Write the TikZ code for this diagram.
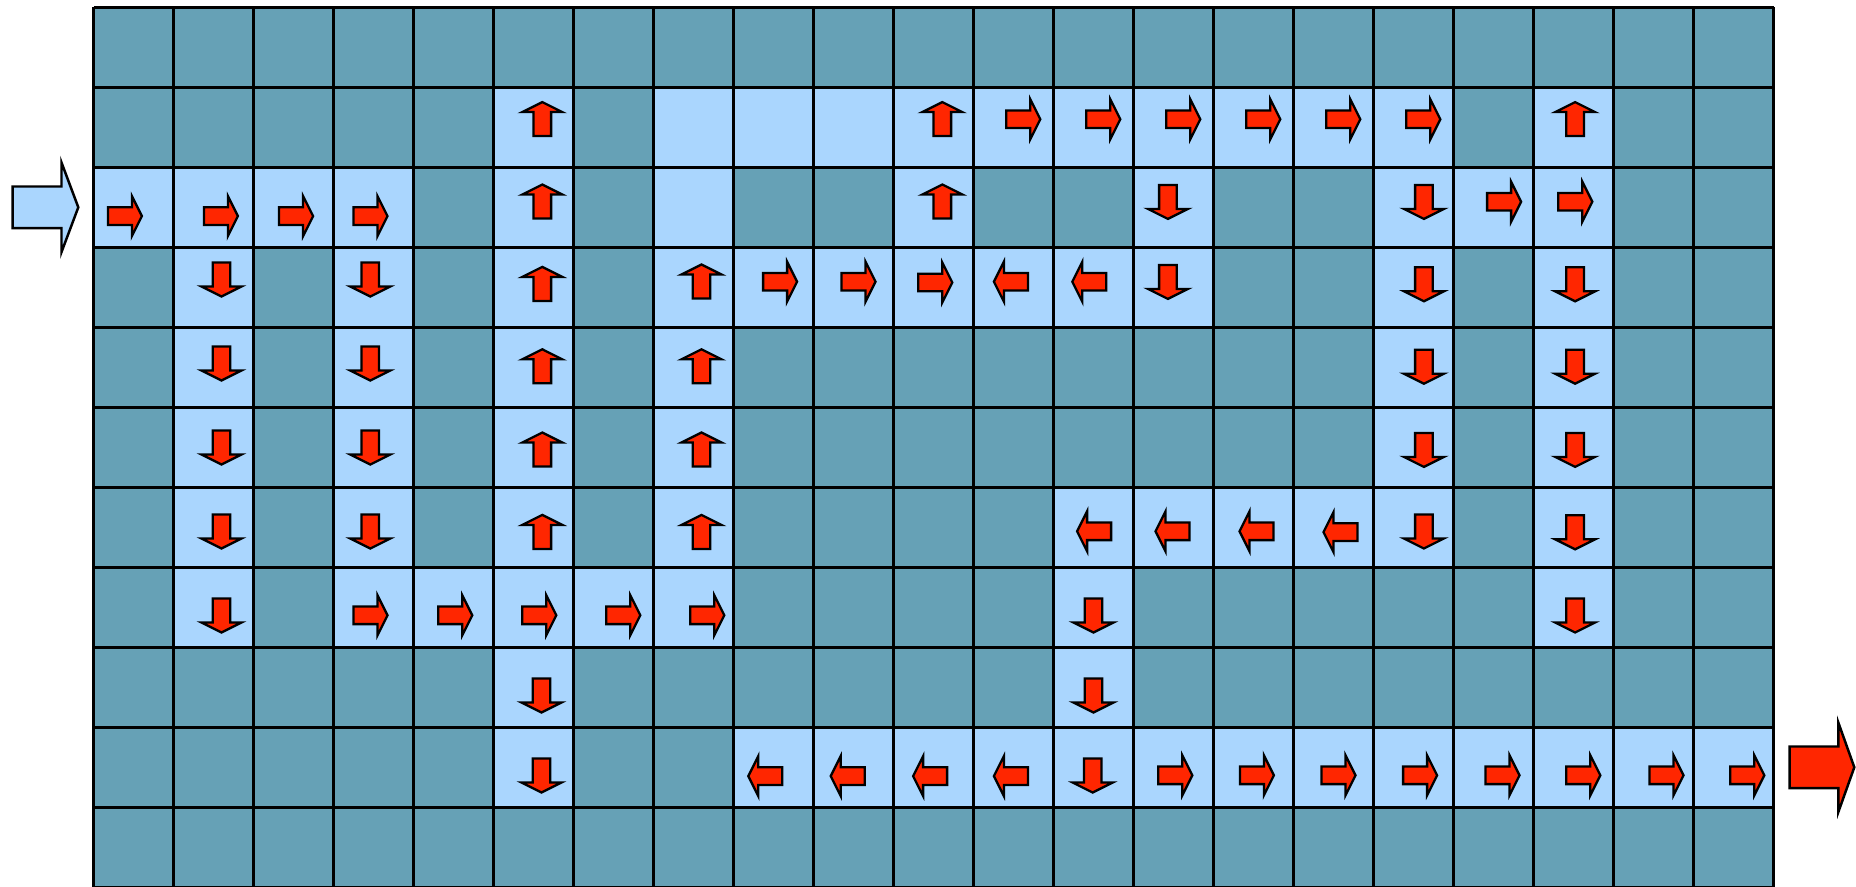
\documentclass[tikz,border=0pt]{standalone}
\usetikzlibrary{calc}

\definecolor{wallblue}{HTML}{66A1B6}
\definecolor{corridor}{HTML}{AAD6FE}
\definecolor{flowred}{HTML}{FF2600}

\tikzset{
  gridline/.style={line width=0.75pt,black},
  flowarrow/.style={draw=black,line width=0.65pt,fill=flowred},
  bigarrow/.style={draw=black,line width=0.7pt},
}

% small block arrow, centre at (#1,#2), turned by #3 degrees
\newcommand{\flowarr}[3]{%
  \draw[flowarrow,shift={(#1,#2)},rotate=#3] (-0.21,-0.11) -- (0.09,-0.11) -- (0.09,-0.25)
    -- (0.215,0) -- (0.09,0.25) -- (0.09,0.11) -- (-0.21,0.11) -- cycle;}

\begin{document}
\begin{tikzpicture}
  \useasboundingbox (0,0) rectangle (18.56,-8.86);
  \clip (0,0) rectangle (18.56,-8.86);
  \begin{scope}[shift={(0.935,-0.073)},x=0.8cm,y=-0.8cm]
    % maze: walls, corridor cells, grid
    \fill[wallblue] (0,0) rectangle (21,11);
    \foreach \c/\r in {5/1,7/1,8/1,9/1,10/1,11/1,12/1,13/1,14/1,15/1,16/1,18/1,
        0/2,1/2,2/2,3/2,5/2,7/2,10/2,13/2,16/2,17/2,18/2,
        1/3,3/3,5/3,7/3,8/3,9/3,10/3,11/3,12/3,13/3,16/3,18/3,
        1/4,3/4,5/4,7/4,16/4,18/4,
        1/5,3/5,5/5,7/5,16/5,18/5,
        1/6,3/6,5/6,7/6,12/6,13/6,14/6,15/6,16/6,18/6,
        1/7,3/7,4/7,5/7,6/7,7/7,12/7,18/7,
        5/8,12/8,
        5/9,8/9,9/9,10/9,11/9,12/9,13/9,14/9,15/9,16/9,17/9,18/9,19/9,20/9}
      \fill[corridor] (\c,\r) rectangle ++(1,1);
    \foreach \c in {0,...,21} \draw[gridline] (\c,0) -- (\c,11);
    \foreach \r in {0,...,11} \draw[gridline] (0,\r) -- (21,\r);

    % way in, way out
    \draw[bigarrow,fill=corridor] (-1.01,2.24) -- (-0.40,2.24) -- (-0.40,1.94) -- (-0.19,2.50)
      -- (-0.40,3.06) -- (-0.40,2.76) -- (-1.01,2.76) -- cycle;
    \draw[bigarrow,fill=flowred] (21.20,9.24) -- (21.81,9.24) -- (21.81,8.94) -- (22.01,9.50)
      -- (21.81,10.06) -- (21.81,9.76) -- (21.20,9.76) -- cycle;

    % right
    \foreach \x/\y in {0.39/2.61,1.59/2.61,2.53/2.61,3.46/2.61,
        11.62/1.40,12.62/1.40,13.62/1.40,14.62/1.40,15.62/1.40,16.62/1.40,
        17.63/2.43,18.52/2.43,8.58/3.43,9.56/3.43,10.52/3.44,
        3.46/7.60,4.52/7.60,5.57/7.60,6.62/7.60,7.67/7.60,
        13.52/9.60,14.54/9.60,15.56/9.60,16.58/9.60,17.61/9.60,18.62/9.60,19.66/9.60,20.67/9.60}
      \flowarr{\x}{\y}{0};
    % up
    \foreach \x/\y in {5.61/1.40,10.61/1.40,18.52/1.40,5.61/2.43,10.61/2.43,
        5.61/3.46,7.60/3.43,5.61/4.49,7.60/4.49,5.61/5.53,7.60/5.53,5.61/6.56,7.60/6.56}
      \flowarr{\x}{\y}{90};
    % down
    \foreach \x/\y in {13.43/2.43,16.63/2.43,
        1.60/3.40,3.46/3.40,13.43/3.43,16.63/3.46,18.52/3.46,
        1.60/4.45,3.46/4.45,16.63/4.49,18.52/4.49,
        1.60/5.50,3.46/5.50,16.63/5.53,18.52/5.53,
        1.60/6.55,3.46/6.55,16.63/6.55,18.52/6.56,
        1.60/7.60,12.50/7.60,18.52/7.60,
        5.60/8.60,12.50/8.60,5.60/9.60,12.49/9.60}
      \flowarr{\x}{\y}{-90};
    % left
    \foreach \x/\y in {11.47/3.43,12.45/3.43,
        12.51/6.55,13.49/6.55,14.54/6.55,15.59/6.56,
        8.40/9.61,9.43/9.61,10.46/9.61,11.47/9.61}
      \flowarr{\x}{\y}{180};
  \end{scope}
\end{tikzpicture}
\end{document}
